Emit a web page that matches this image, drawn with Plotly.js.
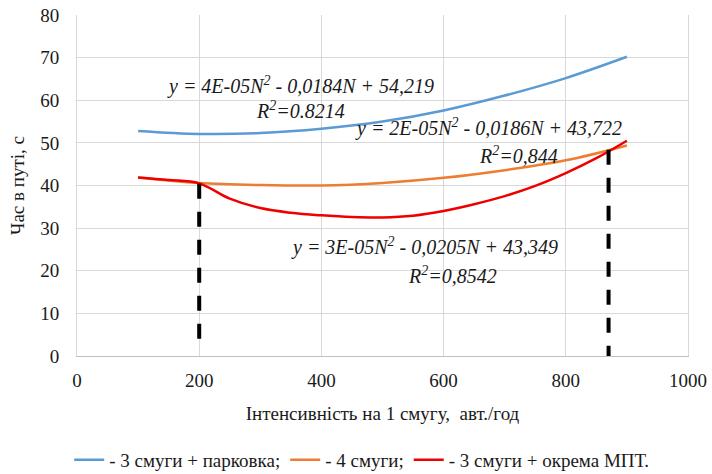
<!DOCTYPE html>
<html>
<head>
<meta charset="utf-8">
<script src="https://cdn.plot.ly/plotly-3.0.1.min.js"></script>
<style>
  html, body { margin: 0; padding: 0; background: #ffffff; }
  #chart { width: 712px; height: 474px; }
</style>
</head>
<body>
<div id="chart"></div>
<script>
// ---- data ----
const blueX = [100, 200, 300, 400, 500, 600, 700, 800, 900];
const blueY = [52.8, 52.1, 52.3, 53.3, 55.0, 57.6, 61.1, 65.2, 70.2];

const orangeX = [100, 200, 300, 400, 500, 600, 700, 800, 900];
const orangeY = [41.9, 40.6, 40.1, 40.0, 40.6, 41.8, 43.6, 45.9, 49.4];

const redX = [100, 150, 200, 250, 300, 350, 400, 450, 500, 550, 600, 650, 700, 750, 800, 850, 900];
const redY = [41.9, 41.3, 40.5, 36.9, 34.7, 33.6, 33.0, 32.6, 32.5, 32.9, 34.0, 35.6, 37.5, 39.9, 42.9, 46.4, 50.5];

const leftMarkX = [200, 200];
const leftMarkY = [40.4, 3.4];
const rightMarkX = [870, 870];
const rightMarkY = [48.4, 0];

const seriesNames = ['- 3 смуги + парковка;', '- 4 смуги;', '- 3 смуги + окрема МПТ.'];
const xTicks = [0, 200, 400, 600, 800, 1000];
const yTicks = [0, 10, 20, 30, 40, 50, 60, 70, 80];

const xTitle = 'Інтенсивність на 1 смугу,  авт./год';
const yTitle = 'Час в путі, с';

const eq1a = '<i>y = 4E-05N<sup>2</sup> - 0,0184N + 54,219</i>';
const eq1b = '<i>R<sup>2</sup>=0.8214</i>';
const eq2a = '<i>y = 2E-05N<sup>2</sup> - 0,0186N + 43,722</i>';
const eq2b = '<i>R<sup>2</sup>=0,844</i>';
const eq3a = '<i>y = 3E-05N<sup>2</sup> - 0,0205N + 43,349</i>';
const eq3b = '<i>R<sup>2</sup>=0,8542</i>';

const serif = '"Liberation Serif", "Times New Roman", serif';
const txt = '#1a1a1a';

const traces = [
  { x: blueX, y: blueY, mode: 'lines', name: seriesNames[0],
    line: { color: '#5b9bd5', width: 2.5, shape: 'spline', smoothing: 1 } },
  { x: orangeX, y: orangeY, mode: 'lines', name: seriesNames[1],
    line: { color: '#ed7d31', width: 2.5, shape: 'spline', smoothing: 1 } },
  { x: redX, y: redY, mode: 'lines', name: seriesNames[2],
    line: { color: '#ee0000', width: 2.5, shape: 'spline', smoothing: 1 } },
  { x: leftMarkX, y: leftMarkY, mode: 'lines', showlegend: false, hoverinfo: 'skip',
    line: { color: '#000000', width: 4, dash: '15px,13px' } },
  { x: rightMarkX, y: rightMarkY, mode: 'lines', showlegend: false, hoverinfo: 'skip',
    line: { color: '#000000', width: 4, dash: '15px,13px' } }
];

function ann(text, x, y) {
  return { text: text, x: x, y: y, xref: 'x', yref: 'y', showarrow: false,
           xanchor: 'center', yanchor: 'middle',
           font: { family: serif, size: 20, color: txt } };
}

const layout = {
  width: 712, height: 474,
  margin: { l: 77, r: 24, t: 15, b: 118, autoexpand: false },
  paper_bgcolor: '#ffffff', plot_bgcolor: '#ffffff',
  font: { family: serif, size: 19, color: txt },
  showlegend: true,
  legend: { orientation: 'h', x: 0.466, xanchor: 'center', y: -0.305, yanchor: 'middle',
            font: { family: serif, size: 19, color: txt }, itemwidth: 30, traceorder: 'normal' },
  xaxis: {
    range: [0, 1000], tickvals: xTicks, ticktext: xTicks.map(String),
    showgrid: true, gridcolor: '#d9d9d9', gridwidth: 1,
    zeroline: false, showline: true, linecolor: '#bfbfbf', linewidth: 1,
    ticks: '', ticklabelstandoff: 7,
    tickfont: { family: serif, size: 19, color: txt },
    title: { text: xTitle, font: { family: serif, size: 19, color: txt }, standoff: 16 }
  },
  yaxis: {
    range: [0, 80], tickvals: yTicks, ticktext: yTicks.map(String),
    showgrid: true, gridcolor: '#d9d9d9', gridwidth: 1,
    zeroline: false, showline: true, linecolor: '#d9d9d9', linewidth: 1, mirror: true,
    ticks: '', ticklabelstandoff: 13,
    tickfont: { family: serif, size: 19, color: txt },
    title: { text: yTitle, font: { family: serif, size: 19, color: txt }, standoff: 10 }
  },
  annotations: [
    ann(eq1a, 365, 63.4), ann(eq1b, 365, 57.6),
    ann(eq2a, 673, 53.5), ann(eq2b, 723, 47.2),
    ann(eq3a, 568, 25.6), ann(eq3b, 614, 18.9)
  ]
};

Plotly.newPlot('chart', traces, layout, { displayModeBar: false, staticPlot: true });
</script>
</body>
</html>
